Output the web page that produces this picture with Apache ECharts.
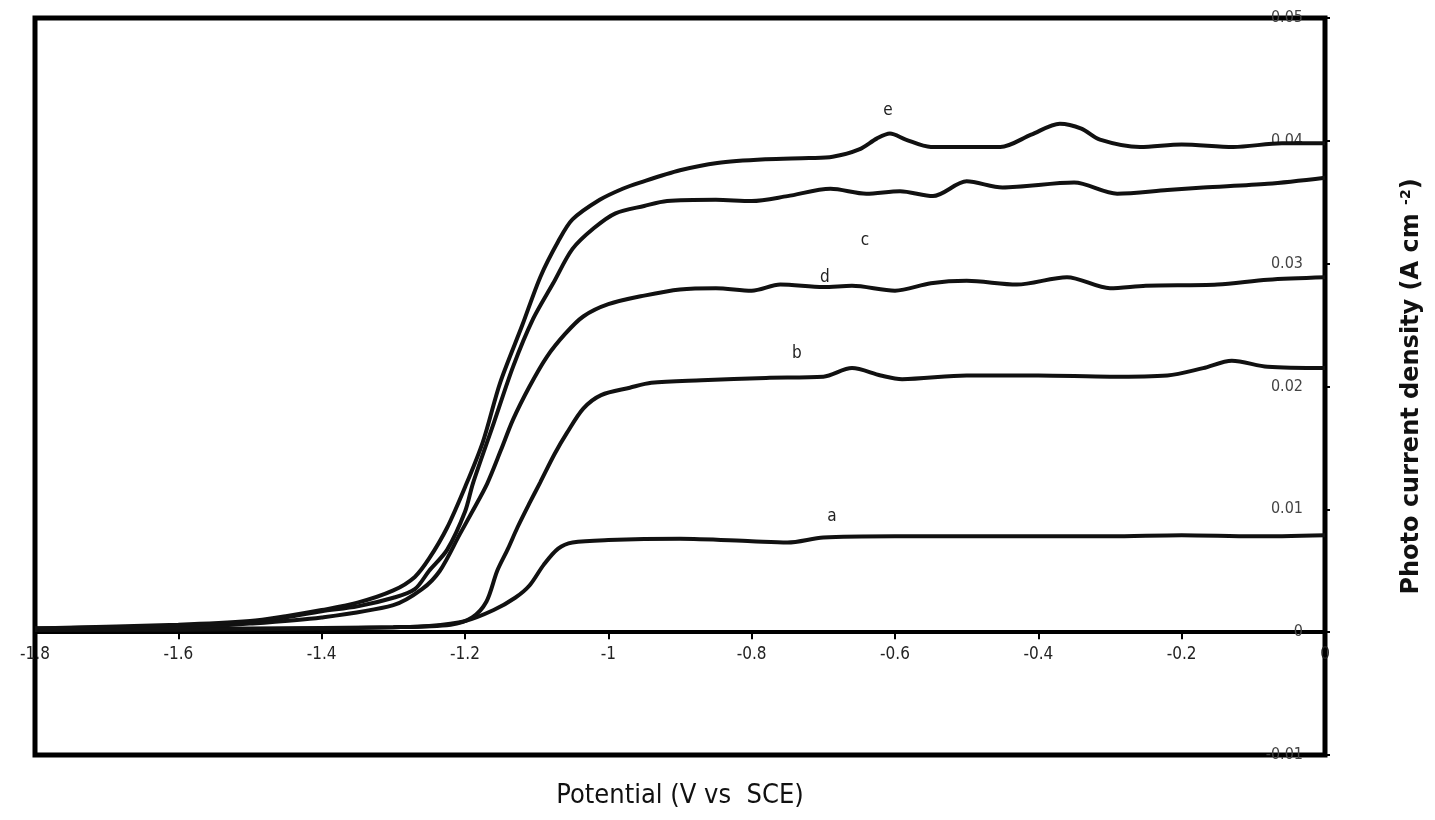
<!DOCTYPE html>
<html>
<head>
<meta charset="utf-8">
<title>Photo current density vs potential</title>
<script src="https://cdn.jsdelivr.net/npm/echarts@6/dist/echarts.min.js"></script>
<style>
    html, body { margin: 0; padding: 0; background: #fff; }
    #chart { width: 1435px; height: 820px; }
</style>
</head>
<body>
<div id="chart"></div>
<script>
// potential (V vs SCE), photo current density (A cm-2)
var curveA = [[-1.8,0.0002],[-1.6,0.0002],[-1.4,0.0003],[-1.3,0.0004],[-1.25,0.0005],[-1.2,0.0009],[-1.16,0.0018],[-1.13,0.0028],[-1.11,0.0038],[-1.09,0.0055],[-1.07,0.0068],[-1.05,0.0073],[-1.0,0.0075],[-0.9,0.0076],[-0.8,0.0074],[-0.75,0.0073],[-0.7,0.0077],[-0.6,0.0078],[-0.5,0.0078],[-0.4,0.0078],[-0.3,0.0078],[-0.2,0.0079],[-0.1,0.0078],[0,0.0079]];
var curveB = [[-1.8,0.0002],[-1.5,0.0003],[-1.3,0.0004],[-1.22,0.0006],[-1.19,0.0012],[-1.17,0.0025],[-1.155,0.005],[-1.14,0.0068],[-1.127,0.0085],[-1.11,0.0105],[-1.095,0.0122],[-1.075,0.0145],[-1.058,0.0162],[-1.035,0.0182],[-1.01,0.0193],[-0.97,0.0199],[-0.94,0.0203],[-0.87,0.0205],[-0.78,0.0207],[-0.7,0.0208],[-0.66,0.0215],[-0.62,0.0209],[-0.59,0.0206],[-0.5,0.0209],[-0.4,0.0209],[-0.3,0.0208],[-0.22,0.0209],[-0.17,0.0215],[-0.13,0.0221],[-0.08,0.0216],[0,0.0215]];
var curveC = [[-1.8,0.0003],[-1.6,0.0005],[-1.5,0.0008],[-1.45,0.0012],[-1.4,0.0017],[-1.35,0.0021],[-1.3,0.0028],[-1.27,0.0035],[-1.25,0.005],[-1.225,0.0067],[-1.2,0.0098],[-1.189,0.0121],[-1.16,0.017],[-1.133,0.0216],[-1.105,0.0255],[-1.077,0.0284],[-1.05,0.0312],[-1.02,0.0329],[-0.99,0.0341],[-0.95,0.0347],[-0.918,0.0351],[-0.85,0.0352],[-0.8,0.0351],[-0.75,0.0355],[-0.69,0.0361],[-0.64,0.0357],[-0.593,0.0359],[-0.547,0.0355],[-0.5,0.0367],[-0.45,0.0362],[-0.35,0.0366],[-0.29,0.0357],[-0.22,0.036],[-0.17,0.0362],[-0.08,0.0365],[0,0.037]];
var curveD = [[-1.8,0.0003],[-1.6,0.0004],[-1.5,0.0007],[-1.4,0.0012],[-1.3,0.0022],[-1.26,0.0035],[-1.235,0.005],[-1.207,0.008],[-1.19,0.0098],[-1.169,0.0121],[-1.15,0.0148],[-1.133,0.0173],[-1.11,0.02],[-1.086,0.0224],[-1.06,0.0243],[-1.035,0.0257],[-1.0,0.0267],[-0.95,0.0274],[-0.9,0.0279],[-0.85,0.028],[-0.8,0.0278],[-0.76,0.0283],[-0.7,0.0281],[-0.66,0.0282],[-0.6,0.0278],[-0.55,0.0284],[-0.5,0.0286],[-0.43,0.0283],[-0.36,0.0289],[-0.3,0.028],[-0.25,0.0282],[-0.15,0.0283],[-0.08,0.0287],[0,0.0289]];
var curveE = [[-1.8,0.0003],[-1.6,0.0006],[-1.5,0.0009],[-1.45,0.0013],[-1.4,0.0018],[-1.35,0.0024],[-1.3,0.0034],[-1.27,0.0045],[-1.25,0.006],[-1.225,0.0085],[-1.2,0.0118],[-1.175,0.0155],[-1.151,0.0203],[-1.12,0.025],[-1.095,0.0289],[-1.07,0.0318],[-1.05,0.0336],[-1.012,0.0352],[-0.98,0.0361],[-0.956,0.0366],[-0.9,0.0376],[-0.848,0.0382],[-0.78,0.0385],[-0.72,0.0386],[-0.687,0.0387],[-0.65,0.0393],[-0.625,0.0402],[-0.607,0.0406],[-0.585,0.0401],[-0.55,0.0395],[-0.453,0.0395],[-0.41,0.0405],[-0.37,0.0414],[-0.34,0.041],[-0.314,0.0401],[-0.258,0.0395],[-0.2,0.0397],[-0.128,0.0395],[-0.06,0.0398],[0,0.0398]];

var curveNames = ['a', 'b', 'c', 'd', 'e'];
var curves = [curveA, curveB, curveC, curveD, curveE];
// where each curve letter sits, in data units
var labelPos = [[-0.688, 0.0094], [-0.737, 0.0227], [-0.642, 0.0319], [-0.698, 0.0289], [-0.61, 0.0425]];

var narrow = "'Liberation Sans Narrow', 'Arial Narrow', 'DejaVu Sans Condensed', sans-serif";
var bold = "'DejaVu Sans', 'Liberation Sans', sans-serif";

var gridTop = 18, gridBottom = 65, chartH = 820;
var yMin = -0.01, yMax = 0.05;

showChart();

function showChart() {
    var chart = echarts.init(document.getElementById('chart'));

    // the x axis sits on y = 0, measured up from the bottom of the box
    var plotH = chartH - gridTop - gridBottom;
    var zeroOffset = plotH * (0 - yMin) / (yMax - yMin);

    var series = [];
    for (var i = 0; i < curves.length; i++) {
        series.push({
            name: curveNames[i],
            type: 'line',
            data: curves[i],
            showSymbol: false,
            smooth: 0.3,
            lineStyle: { color: '#111', width: 4 },
            markPoint: {
                symbol: 'circle',
                symbolSize: 2,
                silent: true,
                itemStyle: { color: 'rgba(0,0,0,0)' },
                label: {
                    show: true,
                    position: 'inside',
                    formatter: curveNames[i],
                    color: '#222',
                    fontFamily: narrow,
                    fontSize: 17
                },
                data: [{ coord: labelPos[i] }]
            },
            z: 3
        });
    }

    var option = {
        backgroundColor: '#fff',
        animation: false,
        grid: {
            show: true,
            left: 35,
            right: 110,
            top: gridTop,
            bottom: gridBottom,
            outerBoundsMode: 'none',
            containLabel: false,
            borderColor: '#000',
            borderWidth: 5,
            backgroundColor: 'transparent'
        },
        xAxis: {
            type: 'value',
            position: 'bottom',
            offset: -zeroOffset,
            min: -1.8,
            max: 0,
            interval: 0.2,
            name: 'Potential (V vs  SCE)',
            nameLocation: 'middle',
            nameGap: 150,
            nameTextStyle: { fontFamily: narrow, fontSize: 27, color: '#111' },
            axisLine: { onZero: false, lineStyle: { color: '#000', width: 4 } },
            axisTick: { show: true, length: 7, lineStyle: { color: '#000', width: 2 } },
            axisLabel: {
                margin: 14,
                fontFamily: narrow,
                fontSize: 17,
                color: '#222',
                formatter: function(v) { return String(parseFloat(v.toFixed(1))); }
            },
            splitLine: { show: false }
        },
        yAxis: {
            type: 'value',
            position: 'right',
            min: yMin,
            max: yMax,
            interval: 0.01,
            name: 'Photo current density (A cm {sup|-2})',
            nameLocation: 'middle',
            nameRotate: 90,
            nameGap: 74,
            nameTextStyle: {
                fontFamily: bold,
                fontWeight: 'bold',
                fontSize: 24,
                color: '#111',
                rich: {
                    sup: {
                        fontFamily: bold,
                        fontWeight: 'bold',
                        fontSize: 14,
                        color: '#111',
                        padding: [0, 0, 12, 0]
                    }
                }
            },
            axisLine: { show: false },
            axisTick: { show: true, length: 5, lineStyle: { color: '#000', width: 2 } },
            axisLabel: {
                inside: true,
                margin: 22,
                fontFamily: narrow,
                fontSize: 16,
                color: '#444',
                formatter: function(v) { return String(parseFloat(v.toFixed(2))); }
            },
            splitLine: { show: false }
        },
        series: series
    };

    chart.setOption(option);
}
</script>
</body>
</html>
